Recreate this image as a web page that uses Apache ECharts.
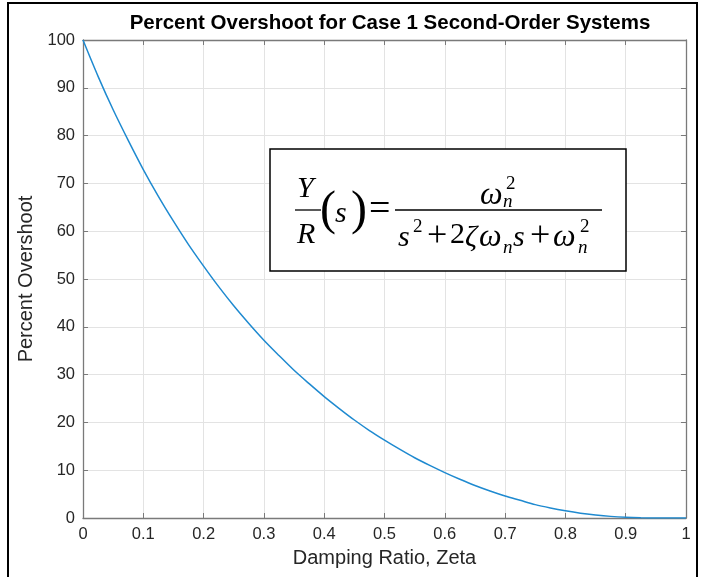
<!DOCTYPE html>
<html>
<head>
<meta charset="utf-8">
<script src="https://cdn.jsdelivr.net/npm/echarts@6/dist/echarts.min.js"></script>
<style>html,body{margin:0;padding:0;background:#fff}#c{width:706px;height:577px}</style>
</head>
<body>
<div id="c"></div>
<script>
const titleText = 'Percent Overshoot for Case 1 Second-Order Systems';
const xName = 'Damping Ratio, Zeta';
const yName = 'Percent Overshoot';
const zeta = [0, 0.025, 0.05, 0.075, 0.1, 0.125, 0.15, 0.175, 0.2, 0.225, 0.25, 0.275, 0.3, 0.325, 0.35, 0.375, 0.4, 0.425, 0.45, 0.475, 0.5,
              0.525, 0.55, 0.575, 0.6, 0.625, 0.65, 0.675, 0.7, 0.725, 0.75, 0.775, 0.8, 0.825, 0.85, 0.875, 0.9, 0.925, 0.95, 0.975, 1];
const overshoot = [100, 92.4, 85.4, 79.0, 72.9, 67.3, 62.1, 57.2, 52.7, 48.4, 44.4, 40.7, 37.2, 34.0, 30.9, 28.1, 25.4, 22.9, 20.5, 18.3, 16.3,
                   14.4, 12.6, 11.0, 9.5, 8.1, 6.8, 5.65, 4.6, 3.7, 2.8, 2.1, 1.5, 1.0, 0.63, 0.34, 0.15, 0.05, 0.01, 0, 0];

const chart = echarts.init(document.getElementById('c'), null, {renderer: 'canvas'});
const textColor = '#262626';
const axisColor = '#7a7a7a';
const gridColor = '#e3e3e3';
const sans = 'Liberation Sans';
const serif = 'Liberation Serif';

function t(text, x, y, size, italic) {
  return {
    type: 'text', x: x, y: y, z: 101,
    style: {
      text: text,
      font: (italic ? 'italic ' : '') + size + 'px "' + serif + '"',
      fill: '#000',
      align: 'left',
      verticalAlign: 'middle'
    }
  };
}

const option = {
  animation: false,
  backgroundColor: '#fff',
  title: {
    text: titleText,
    left: 385, top: 8, textAlign: 'center',
    textStyle: {fontFamily: sans, fontWeight: 'bold', fontSize: 20.5, color: '#000'}
  },
  grid: {left: 83, right: 20, top: 40, bottom: 59, containLabel: false},
  xAxis: [{
    type: 'value', min: 0, max: 1, interval: 0.1, position: 'bottom',
    name: xName, nameLocation: 'middle', nameGap: 30,
    nameTextStyle: {fontFamily: sans, fontSize: 20, color: textColor},
    axisLine: {show: true, onZero: false, lineStyle: {color: axisColor, width: 1.3}},
    axisTick: {show: true, inside: true, length: 5, lineStyle: {color: axisColor}},
    axisLabel: {fontFamily: sans, fontSize: 16.5, color: textColor, margin: 8},
    splitLine: {show: true, lineStyle: {color: gridColor, width: 1}}
  }, {
    type: 'value', min: 0, max: 1, interval: 0.1, position: 'top',
    axisLine: {show: true, onZero: false, lineStyle: {color: axisColor, width: 1.3}},
    axisTick: {show: true, inside: true, length: 5, lineStyle: {color: axisColor}},
    axisLabel: {show: false},
    splitLine: {show: false}
  }],
  yAxis: [{
    type: 'value', min: 0, max: 100, interval: 10, position: 'left',
    name: yName, nameLocation: 'middle', nameGap: 46, nameRotate: 90,
    nameTextStyle: {fontFamily: sans, fontSize: 20, color: textColor},
    axisLine: {show: true, onZero: false, lineStyle: {color: axisColor, width: 1.3}},
    axisTick: {show: true, inside: true, length: 5, lineStyle: {color: axisColor}},
    axisLabel: {fontFamily: sans, fontSize: 16.5, color: textColor, margin: 8},
    splitLine: {show: true, lineStyle: {color: gridColor, width: 1}}
  }, {
    type: 'value', min: 0, max: 100, interval: 10, position: 'right',
    axisLine: {show: true, onZero: false, lineStyle: {color: axisColor, width: 1.3}},
    axisTick: {show: true, inside: true, length: 5, lineStyle: {color: axisColor}},
    axisLabel: {show: false},
    splitLine: {show: false}
  }],
  series: [{
    type: 'line',
    data: zeta.map((z, i) => [z, overshoot[i]]),
    xAxisIndex: 0, yAxisIndex: 0,
    showSymbol: false, symbol: 'none',
    smooth: 0.3,
    lineStyle: {color: '#1f8ad0', width: 1.5},
    z: 5
  }],
  graphic: [
    {type: 'rect', z: 100, shape: {x: 8, y: 3, width: 689, height: 620},
     style: {fill: null, stroke: '#000', lineWidth: 2}},
    {type: 'rect', z: 100, shape: {x: 270, y: 149, width: 356, height: 122},
     style: {fill: '#fff', stroke: '#000', lineWidth: 1.5}},
    {type: 'line', z: 101, shape: {x1: 295, y1: 210, x2: 321, y2: 210}, style: {stroke: '#000', lineWidth: 1.3}},
    {type: 'line', z: 101, shape: {x1: 395, y1: 210, x2: 602, y2: 210}, style: {stroke: '#000', lineWidth: 1.3}},
    t('Y', 297, 189, 30, true),
    t('R', 297, 235, 30, true),
    t('(', 320, 211, 48, false),
    t('s', 335, 214, 30, true),
    t(')', 351, 211, 48, false),
    t('=', 369, 210, 38, false),
    t('\u03c9', 480, 196, 32, true),
    t('n', 503, 202, 19, true),
    t('2', 506, 184, 19, false),
    t('s', 398, 238, 30, true),
    t('2', 413, 227, 19, false),
    t('+', 427, 237, 36, false),
    t('2', 450, 235, 30, false),
    t('\u03b6', 465, 238, 30, true),
    t('\u03c9', 479, 238, 32, true),
    t('n', 503, 248, 19, true),
    t('s', 513, 238, 30, true),
    t('+', 530, 237, 36, false),
    t('\u03c9', 553, 238, 32, true),
    t('n', 578, 248, 19, true),
    t('2', 580, 227, 19, false)
  ]
};
chart.setOption(option);
</script>
</body>
</html>
